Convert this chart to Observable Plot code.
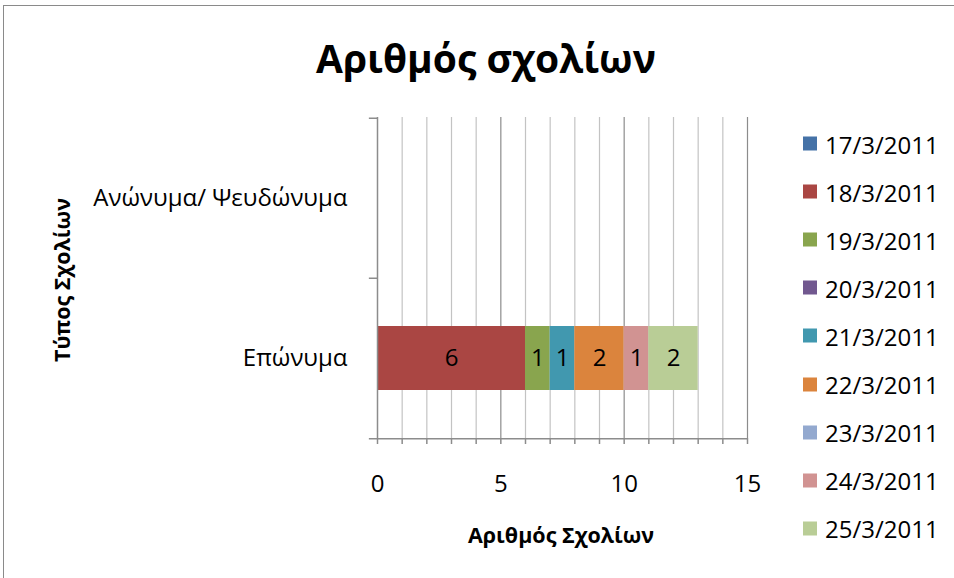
<!DOCTYPE html>
<html>
<head>
<meta charset="utf-8">
<script src="https://cdn.jsdelivr.net/npm/d3@7"></script>
<script src="https://cdn.jsdelivr.net/npm/@observablehq/plot@0.6"></script>
<style>
  html, body { margin: 0; padding: 0; background: #fff; }
  #chart { position: relative; width: 954px; height: 578px; overflow: hidden; font-family: "Open Sans", sans-serif; color: #000; }
  #frame { position: absolute; left: 3px; top: 5px; width: 2000px; height: 2000px; border-left: 1.5px solid #8a8a8a; border-top: 1.5px solid #8a8a8a; }
  .abs { position: absolute; white-space: nowrap; transform: translate(-50%, -50%); }
  #plot { position: absolute; left: 0; top: 0; }
  .leg { position: absolute; display: flex; align-items: center; font-size: 24px; transform: translateY(-50%); }
  .leg .sw { width: 14px; height: 14px; margin-right: 8px; }
</style>
</head>
<body>
<div id="chart">
  <div id="frame"></div>
  <div id="plot"></div>
</div>
<script>
// ---- data ----
const title = "Αριθμός σχολίων";
const xTitle = "Αριθμός Σχολίων";
const yTitle = "Τύπος Σχολίων";
const categories = ["Ανώνυμα/ Ψευδώνυμα", "Επώνυμα"];
const dates = ["17/3/2011", "18/3/2011", "19/3/2011", "20/3/2011", "21/3/2011", "22/3/2011", "23/3/2011", "24/3/2011", "25/3/2011"];
const anonymousValues = [0, 0, 0, 0, 0, 0, 0, 0, 0];
const namedValues = [0, 6, 1, 0, 1, 2, 0, 1, 2];
const xTicks = [0, 5, 10, 15];
const colors = ["#4572a7", "#aa4643", "#89a54e", "#71588f", "#4198af", "#db843d", "#93a9cf", "#d19392", "#b9cd96"];

const data = [];
dates.forEach((d, i) => {
  data.push({type: categories[0], date: d, value: anonymousValues[i]});
  data.push({type: categories[1], date: d, value: namedValues[i]});
});

// ---- layout ----
const W = 954, H = 578;
const mL = 377, mR = 954 - 747, mT = 117, mB = 578 - 438;
const bandStep = (H - mT - mB) / categories.length;
const minor = d3.range(0, 16).filter(v => v % 5 !== 0);
const major = xTicks.filter(v => v > 0);
const fontStyle = {fontFamily: "Open Sans, sans-serif", fontSize: "24px", color: "#000", overflow: "visible"};

const plot = Plot.plot({
  width: W, height: H,
  marginLeft: mL, marginRight: mR, marginTop: mT, marginBottom: mB,
  style: fontStyle,
  x: {domain: [0, 15]},
  y: {domain: categories, paddingInner: 0.6, paddingOuter: 0.3},
  color: {domain: dates, range: colors},
  marks: [
    Plot.ruleX(minor, {stroke: "#c3c3c3", strokeWidth: 1.2}),
    Plot.ruleX(major, {stroke: "#8c8c8c", strokeWidth: 1.2}),
    Plot.barX(data, Plot.stackX({x: "value", y: "type", fill: "date"})),
    Plot.text(data, Plot.stackX({x: "value", y: "type", text: d => d.value > 0 ? String(d.value) : "", fill: "#000", fontSize: 24})),
    // y axis line and category boundary ticks
    Plot.ruleX([0], {stroke: "#8c8c8c", strokeWidth: 1.5}),
    Plot.ruleY(categories, {y: d => d, dy: -bandStep / 2, x1: -0.33, x2: 0, stroke: "#8c8c8c", strokeWidth: 1.5}),
    Plot.ruleY([categories[categories.length - 1]], {y: d => d, dy: bandStep / 2, x1: -0.33, x2: 15, stroke: "#8c8c8c", strokeWidth: 1.5}),
    Plot.axisX(d3.range(0, 16), {tickSize: 6, tickPadding: 30, stroke: "#8c8c8c", strokeWidth: 1.5, tickFormat: d => xTicks.includes(d) ? String(d) : "", label: null, fill: "#000"}),
    Plot.axisY({tickSize: 0, tickPadding: 30, label: null, fill: "#000"})
  ]
});
document.getElementById("plot").appendChild(plot);

// ---- title & axis titles ----
const chart = document.getElementById("chart");
function addText(txt, x, y, css, rotate) {
  const el = document.createElement("div");
  el.className = "abs";
  el.textContent = txt;
  el.style.left = x + "px";
  el.style.top = y + "px";
  Object.assign(el.style, css);
  if (rotate) el.style.transform = "translate(-50%, -50%) rotate(-90deg)";
  chart.appendChild(el);
}
addText(title, 486, 57, {fontSize: "39px", fontWeight: "700"});
addText(xTitle, 561, 534, {fontSize: "21.5px", fontWeight: "700"});
addText(yTitle, 61, 280, {fontSize: "21.5px", fontWeight: "700"}, true);

// ---- legend ----
dates.forEach((d, i) => {
  const row = document.createElement("div");
  row.className = "leg";
  row.style.left = "803px";
  row.style.top = (143.5 + i * 48.1) + "px";
  const sw = document.createElement("div");
  sw.className = "sw";
  sw.style.background = colors[i];
  const lb = document.createElement("span");
  lb.textContent = d;
  row.appendChild(sw);
  row.appendChild(lb);
  chart.appendChild(row);
});
</script>
</body>
</html>
